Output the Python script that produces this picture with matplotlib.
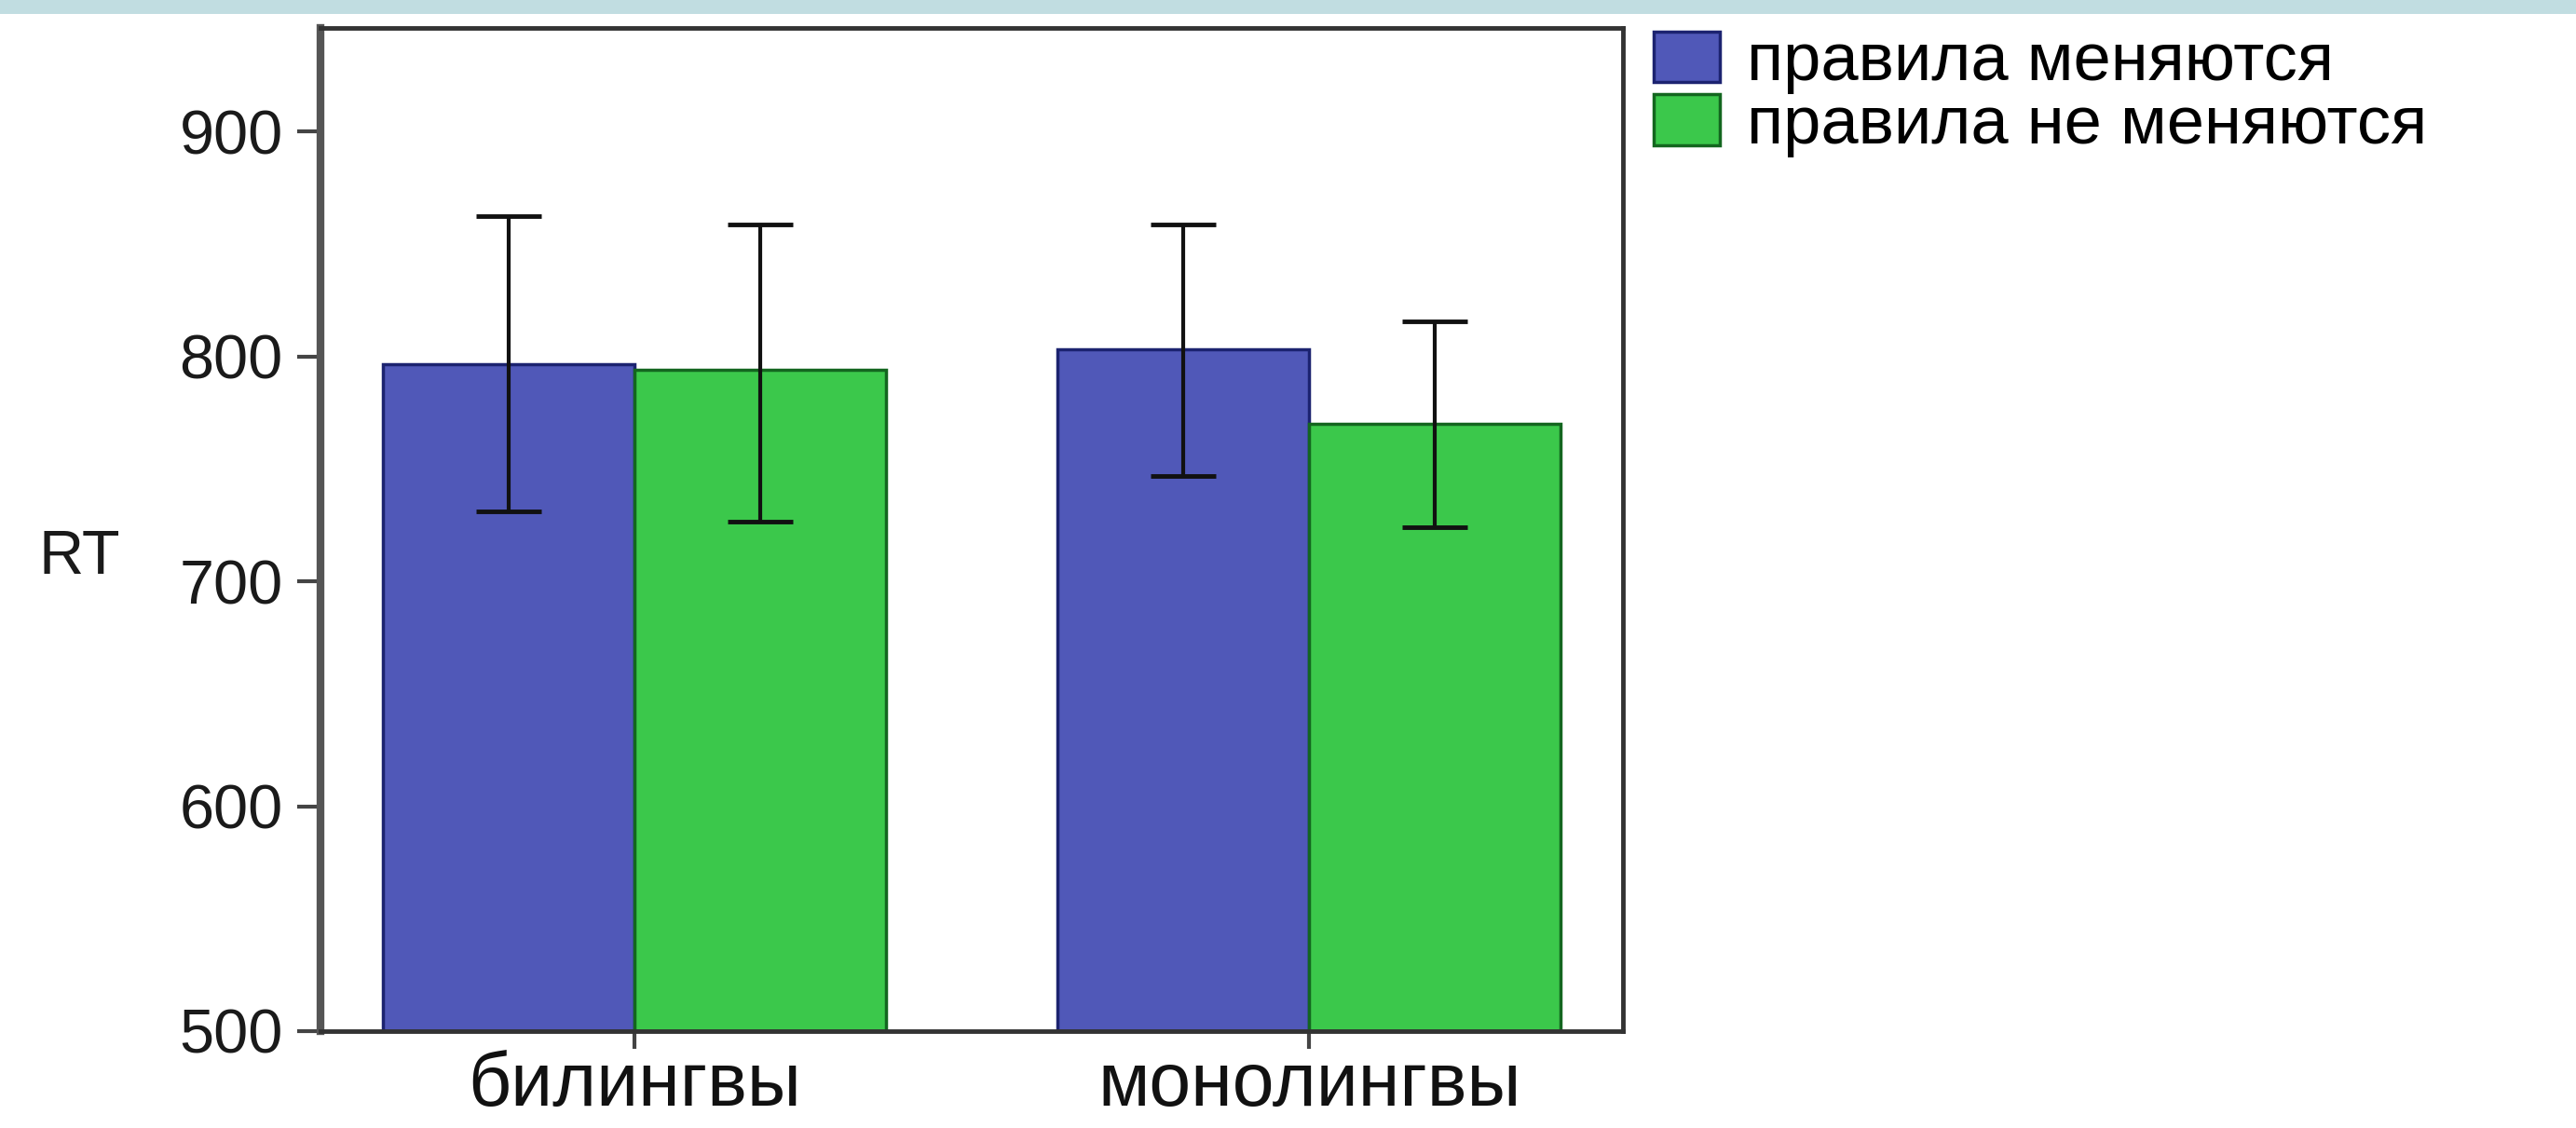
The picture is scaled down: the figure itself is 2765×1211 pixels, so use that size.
import numpy as np
import matplotlib
matplotlib.use("Agg")
import matplotlib.pyplot as plt
from matplotlib.patches import Rectangle

plt.rcParams['font.family'] = ['Liberation Sans', 'DejaVu Sans']

groups = ['билингвы', 'монолингвы']
series = ['правила меняются', 'правила не меняются']
rt_change = [796.5, 803.0]
rt_nochange = [794.0, 770.0]
ci_low_change = [731.0, 747.0]
ci_high_change = [862.5, 858.5]
ci_low_nochange = [726.5, 724.0]
ci_high_nochange = [858.5, 815.5]
yticks = [500, 600, 700, 800, 900]

colors = ['#5058b8', '#3bc84b']
edges = ['#1c2370', '#13661f']

fig = plt.figure(figsize=(27.65, 12.11), dpi=100)
fig.patch.set_facecolor('white')
# light blue strip along the top of the slide
fig.patches.append(Rectangle((0, 1 - 15 / 1211), 1, 15 / 1211, transform=fig.transFigure,
                             facecolor='#c1dde1', edgecolor='none', zorder=0))

ax = fig.add_axes([344 / 2765, 1 - 1107 / 1211, (1742 - 344) / 2765, (1107 - 30) / 1211])

x = np.arange(len(groups))
w = 0.373
vals = [rt_change, rt_nochange]
lows = [ci_low_change, ci_low_nochange]
highs = [ci_high_change, ci_high_nochange]
for i in range(2):
    pos = x + (i - 0.5) * w
    v = np.array(vals[i])
    err = [v - np.array(lows[i]), np.array(highs[i]) - v]
    ax.bar(pos, v - 500, bottom=500, width=w, color=colors[i], edgecolor=edges[i],
           linewidth=2.5, label=series[i], zorder=2)
    ax.errorbar(pos, v, yerr=err, fmt='none', ecolor='#111111', elinewidth=3,
                capsize=25, capthick=3.5, zorder=3)

ax.set_xlim(-0.465, 1.465)
ax.set_ylim(500, 946)
ax.set_yticks(yticks)
ax.set_yticklabels([str(t) for t in yticks], fontsize=48, color='#1a1a1a')
ax.set_xticks(x)
ax.set_xticklabels(groups, fontsize=58, color='#111111')
ax.tick_params(axis='y', length=18, width=3, color='#444444', pad=11)
ax.tick_params(axis='x', length=14, width=3, color='#444444', pad=1)

for side in ['top', 'right', 'bottom']:
    ax.spines[side].set_linewidth(3.5)
    ax.spines[side].set_color('#333333')
ax.spines['left'].set_linewidth(6)
ax.spines['left'].set_color('#555555')

ax.set_ylabel('RT', rotation=0, fontsize=48, color='#1a1a1a', ha='center', va='center')
ax.yaxis.set_label_coords(-0.185, 0.472)

ax.legend(loc='upper left', bbox_to_anchor=(1775 / 2765, 1 - 34 / 1211),
          bbox_transform=fig.transFigure, frameon=False, fontsize=52,
          handlelength=0.98, handleheight=0.78, handletextpad=0.4,
          labelspacing=0.0, borderpad=0, borderaxespad=0)

fig.savefig('out.png', dpi=100, facecolor='white')
